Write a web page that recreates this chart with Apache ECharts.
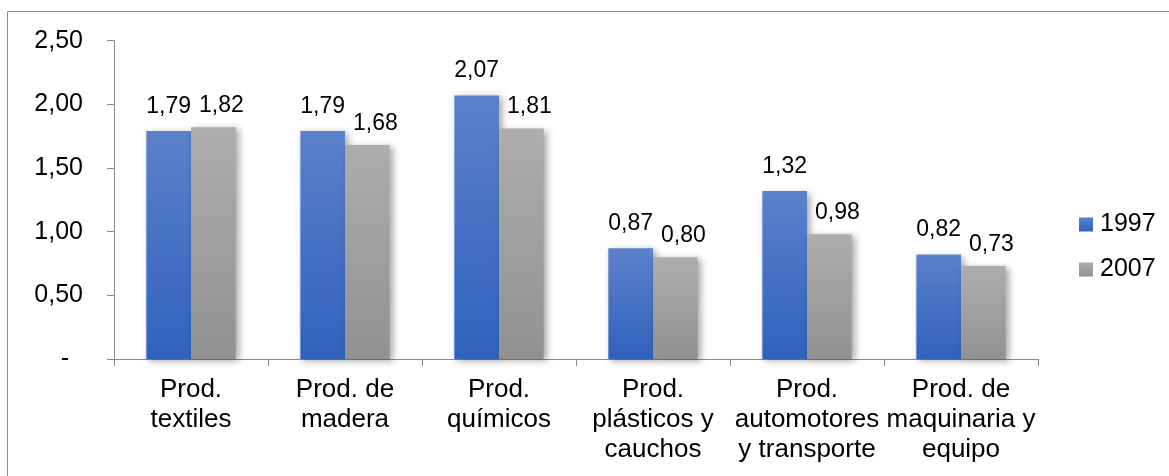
<!DOCTYPE html>
<html>
<head>
<meta charset="utf-8">
<script src="https://cdn.jsdelivr.net/npm/echarts@6/dist/echarts.min.js"></script>
<style>
  html, body { margin: 0; padding: 0; background: #ffffff; }
  #chart { width: 1169px; height: 476px; }
</style>
</head>
<body>
<div id="chart"></div>
<script>
// Sector categories (multi-line labels)
const categories = [
  'Prod.\ntextiles',
  'Prod. de\nmadera',
  'Prod.\nquímicos',
  'Prod.\nplásticos y\ncauchos',
  'Prod.\nautomotores\ny transporte',
  'Prod. de\nmaquinaria y\nequipo'
];
const seriesNames = ['1997', '2007'];
const values1997 = [1.79, 1.79, 2.07, 0.87, 1.32, 0.82];
const values2007 = [1.82, 1.68, 1.81, 0.80, 0.98, 0.73];
const yTicks = [0, 0.5, 1.0, 1.5, 2.0, 2.5];

const FONT = '"Liberation Sans", Arial, sans-serif';
const AXIS_GRAY = '#8a8a8a';

// Decimal comma, two decimals; zero shown as a dash
const fmt = v => v.toFixed(2).replace('.', ',');
const tickFmt = v => (Math.abs(v) < 1e-9 ? '-  ' : fmt(v));

function grad(top, bottom) {
  return new echarts.graphic.LinearGradient(0, 0, 0, 1, [
    { offset: 0, color: top },
    { offset: 1, color: bottom }
  ]);
}

const barShadow = {
  shadowBlur: 7,
  shadowOffsetX: 3,
  shadowOffsetY: 2,
  shadowColor: 'rgba(0,0,0,0.35)'
};

const chart = echarts.init(document.getElementById('chart'), null, { renderer: 'canvas' });

chart.setOption({
  animation: false,
  backgroundColor: '#ffffff',
  graphic: [{
    type: 'rect',
    shape: { x: 7.5, y: 11.5, width: 1200, height: 500 },
    style: { fill: 'none', stroke: '#8c8c8c', lineWidth: 1 },
    silent: true,
    z: -1
  }],
  grid: { left: 114, right: 131, top: 40.7, bottom: 117, containLabel: false },
  legend: {
    orient: 'vertical',
    left: 1079,
    top: 212,
    padding: 0,
    itemWidth: 14,
    itemHeight: 14,
    itemGap: 20,
    icon: 'rect',
    data: seriesNames,
    textStyle: {
      fontFamily: FONT,
      fontSize: 25,
      lineHeight: 25,
      color: '#000',
      padding: [0, 0, 0, 2]
    }
  },
  xAxis: {
    type: 'category',
    data: categories,
    axisLine: { show: true, lineStyle: { color: AXIS_GRAY, width: 1 } },
    axisTick: { show: true, length: 7, alignWithLabel: false, lineStyle: { color: AXIS_GRAY } },
    axisLabel: {
      interval: 0,
      margin: 16,
      fontFamily: FONT,
      fontSize: 26,
      lineHeight: 30,
      color: '#000',
      align: 'center'
    },
    splitLine: { show: false }
  },
  yAxis: {
    type: 'value',
    min: yTicks[0],
    max: yTicks[yTicks.length - 1],
    interval: 0.5,
    axisLine: { show: true, lineStyle: { color: AXIS_GRAY, width: 1 } },
    axisTick: { show: true, length: 7, lineStyle: { color: AXIS_GRAY } },
    axisLabel: {
      margin: 31,
      fontFamily: FONT,
      fontSize: 25,
      color: '#000',
      formatter: tickFmt
    },
    splitLine: { show: false }
  },
  series: [
    {
      name: seriesNames[0],
      type: 'bar',
      data: values1997,
      barGap: '0%',
      barCategoryGap: '42%',
      itemStyle: Object.assign({ color: grad('#5b81cb', '#3062bd') }, barShadow),
      label: {
        show: true,
        position: 'top',
        distance: 13,
        fontFamily: FONT,
        fontSize: 23,
        color: '#000',
        formatter: p => fmt(p.value)
      }
    },
    {
      name: seriesNames[1],
      type: 'bar',
      data: values2007,
      barGap: '0%',
      barCategoryGap: '42%',
      itemStyle: Object.assign({ color: grad('#adadad', '#919191') }, barShadow),
      label: {
        show: true,
        position: 'top',
        distance: 10,
        offset: [8, 0],
        fontFamily: FONT,
        fontSize: 23,
        color: '#000',
        formatter: p => fmt(p.value)
      }
    }
  ]
});
</script>
</body>
</html>
